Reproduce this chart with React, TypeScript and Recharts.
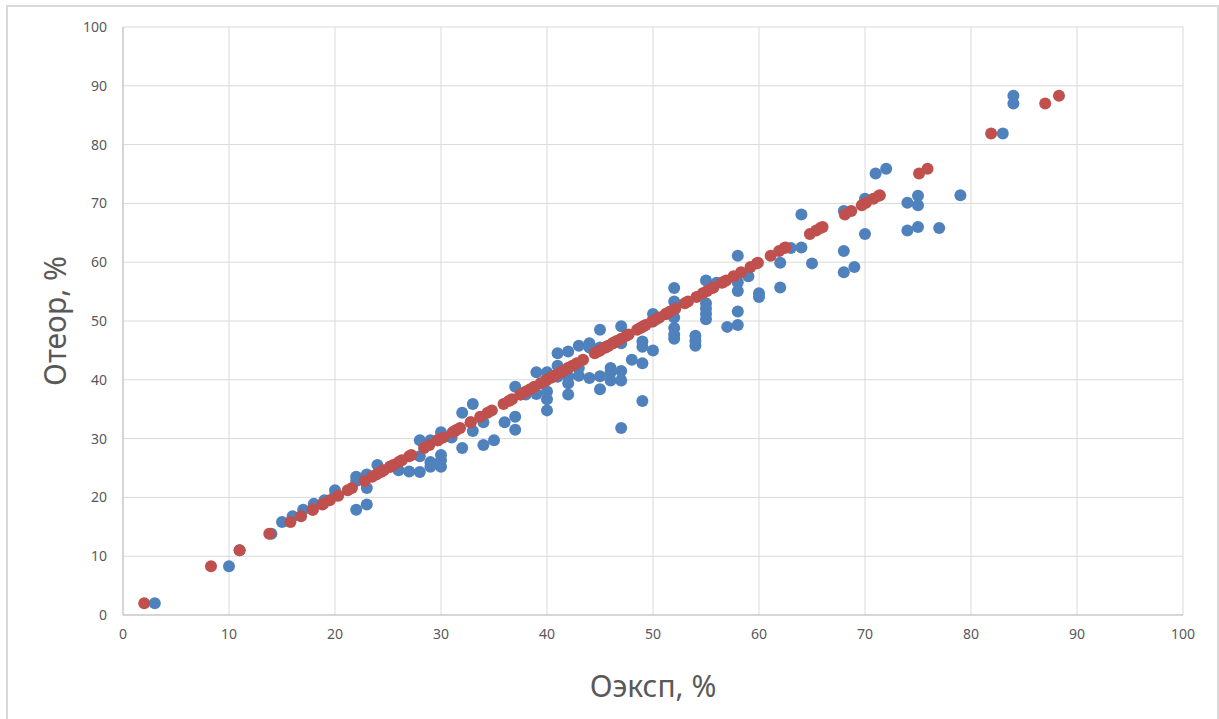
import React from "react";
import {
  ScatterChart,
  Scatter,
  XAxis,
  YAxis,
  CartesianGrid,
  Label,
} from "recharts";

// measured (Оэксп) vs calculated (Отеор) values, %
const oExp = [
  3, 10, 11, 14, 15, 16, 17, 18, 19, 20, 20,
  22, 22, 22, 23, 23, 23, 24, 26, 27, 28, 28, 28,
  29, 29, 29, 30, 30, 30, 30, 31, 32, 32, 33, 33,
  34, 34, 35, 36, 37, 37, 37, 38, 39, 39,
  40, 40, 40, 40, 41, 41, 41, 42, 42, 42, 42,
  43, 43, 43, 44, 44, 44, 45, 45, 45, 45,
  46, 46, 46, 47, 47, 47, 47, 47, 48,
  49, 49, 49, 49, 50, 50, 50,
  52, 52, 52, 52, 52, 52, 54, 54, 54,
  55, 55, 55, 55, 55, 56, 57,
  58, 58, 58, 58, 58, 59, 60, 60, 62, 62, 63,
  64, 64, 65, 68, 68, 68, 69, 70, 70, 71, 72,
  74, 74, 75, 75, 75, 77, 79, 83, 84, 84,
];

const oTheor = [
  2, 8.3, 11, 13.8, 15.8, 16.8, 17.9, 18.9, 19.5, 21.2, 20.3,
  23.5, 22.8, 17.9, 23.9, 21.6, 18.8, 25.5, 24.6, 24.4, 29.7, 27, 24.3,
  29.7, 26, 25.2, 31.1, 27.2, 26.3, 25.2, 30.2, 34.4, 28.4, 35.9, 31.3,
  32.8, 28.9, 29.7, 32.8, 38.8, 33.7, 31.5, 37.5, 41.3, 37.6,
  41.3, 38, 36.7, 34.8, 44.5, 42.4, 40.5, 44.8, 40.5, 39.4, 37.5,
  45.8, 42, 40.7, 46.2, 45.5, 40.3, 48.5, 45.5, 40.6, 38.4,
  42, 41.3, 39.9, 49.1, 46.2, 41.5, 39.9, 31.8, 43.4,
  46.5, 45.6, 42.8, 36.4, 51.2, 49.9, 45,
  55.6, 53.3, 50.6, 48.8, 47.7, 47, 47.5, 46.6, 45.8,
  56.9, 53, 52.1, 51.2, 50.3, 56.5, 49,
  61.1, 56.6, 55.1, 51.6, 49.3, 57.6, 54.7, 54.1, 59.9, 55.7, 62.4,
  68.1, 62.5, 59.8, 68.7, 61.9, 58.3, 59.2, 70.8, 64.8, 75.1, 75.9,
  70.1, 65.4, 71.3, 69.7, 66, 65.8, 71.4, 81.9, 88.3, 87,
];

const axisTicks = [0, 10, 20, 30, 40, 50, 60, 70, 80, 90, 100];

const measured = oExp.map((x, i) => ({ x, y: oTheor[i] }));
// line of perfect agreement: each calculated value against itself
const ideal = oTheor.map((t) => ({ x: t, y: t }));

const FONT = "'Noto Sans', 'Open Sans', sans-serif";
const tickStyle = { fill: "#595959", fontSize: 14, fontFamily: FONT };

export default function App() {
  return (
    <div
      style={{
        position: "absolute",
        left: 0,
        top: 0,
        width: 1219,
        height: 719,
        background: "#fff",
        overflow: "hidden",
      }}
    >
      <div
        style={{
          position: "absolute",
          left: 6,
          top: 5,
          width: 1209,
          height: 730,
          border: "2px solid #d9d9d9",
        }}
      />
      <div style={{ position: "absolute", left: 0, top: 0 }}>
        <ScatterChart
          width={1219}
          height={719}
          margin={{ top: 27, right: 36, bottom: 74, left: 63 }}
        >
          <CartesianGrid stroke="#d9d9d9" strokeWidth={1} />
          <XAxis
            type="number"
            dataKey="x"
            domain={[0, 100]}
            ticks={axisTicks}
            allowDataOverflow
            height={30}
            tickLine={false}
            tickSize={0}
            tickMargin={14}
            axisLine={{ stroke: "#bfbfbf" }}
            tick={tickStyle}
          >
            <Label
              value="Оэксп, %"
              position="insideBottom"
              offset={-52}
              style={{ fill: "#595959", fontSize: 30, fontFamily: FONT }}
            />
          </XAxis>
          <YAxis
            type="number"
            dataKey="y"
            domain={[0, 100]}
            ticks={axisTicks}
            allowDataOverflow
            width={60}
            tickLine={false}
            tickSize={0}
            tickMargin={16}
            axisLine={{ stroke: "#bfbfbf" }}
            tick={tickStyle}
          >
            <Label
              value="Отеор, %"
              angle={-90}
              position="insideLeft"
              offset={-8}
              style={{
                fill: "#595959",
                fontSize: 30,
                fontFamily: FONT,
                textAnchor: "middle",
              }}
            />
          </YAxis>
          <Scatter
            name="Оэксп"
            data={measured}
            fill="#4F81BD"
            isAnimationActive={false}
            shape={(p: any) => (
              <circle cx={p.cx} cy={p.cy} r={6} fill="#4F81BD" />
            )}
          />
          <Scatter
            name="Отеор"
            data={ideal}
            fill="#C0504D"
            isAnimationActive={false}
            shape={(p: any) => (
              <circle cx={p.cx} cy={p.cy} r={6} fill="#C0504D" />
            )}
          />
        </ScatterChart>
      </div>
    </div>
  );
}
